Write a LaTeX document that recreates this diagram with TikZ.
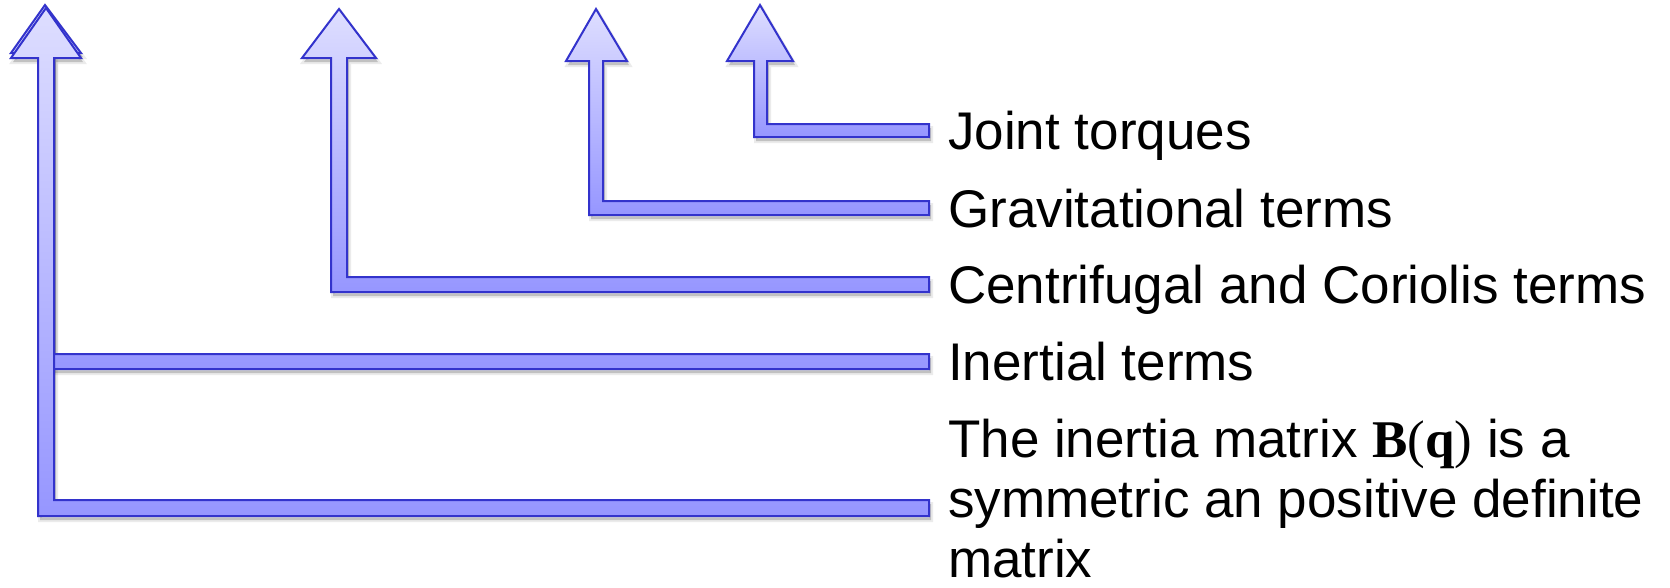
\documentclass[tikz,border=0pt]{standalone}
\usepackage{fontspec}
\setmainfont{Liberation Sans}
\newfontfamily\bqfont{Liberation Serif}
\definecolor{arrtop}{RGB}{222,222,255}
\definecolor{arrbot}{RGB}{150,150,255}
\definecolor{arrline}{RGB}{51,51,204}
\tikzset{
  arrowst/.style={draw=arrline, line width=2pt, line join=miter, top color=arrtop, bottom color=arrbot},
  shadowst/.style={fill=black, fill opacity=0.18, draw=black, draw opacity=0.08, line width=4pt, xshift=2pt, yshift=-4pt},
  lbl/.style={anchor=base west, inner sep=0pt, font=\fontsize{53}{60}\selectfont, text=black}
}
% args: shaft left, shaft right, bar top, bar bottom, head base, head left, head right, tip x, tip y
\newcommand{\arrowshadow}[9]{\path[shadowst] (929,#3) -- (#2,#3) -- (#2,#5) -- (#7,#5) -- (#8,#9) -- (#6,#5) -- (#1,#5) -- (#1,#4) -- (929,#4) -- cycle;}
\newcommand{\arrowbody}[9]{\path[arrowst] (929,#3) -- (#2,#3) -- (#2,#5) -- (#7,#5) -- (#8,#9) -- (#6,#5) -- (#1,#5) -- (#1,#4) -- (929,#4) -- cycle;}
\begin{document}
\begin{tikzpicture}[x=1pt,y=-1pt]
\useasboundingbox (0,0) rectangle (1670,587);
% shadows
\arrowshadow{38}{54}{500}{516}{58}{11}{81}{46}{8}
\arrowshadow{38}{54}{354}{369}{53}{11}{81}{45}{5}
\arrowshadow{331}{347}{277}{292}{58}{302}{376}{339}{9}
\arrowshadow{589}{603}{201}{215}{61}{566}{627}{596}{9}
\arrowshadow{754}{767}{124}{137}{61}{727}{793}{760}{5}
% arrows
\arrowbody{38}{54}{354}{369}{53}{11}{81}{45}{5}
\arrowbody{38}{54}{500}{516}{58}{11}{81}{46}{8}
\arrowbody{331}{347}{277}{292}{58}{302}{376}{339}{9}
\arrowbody{589}{603}{201}{215}{61}{566}{627}{596}{9}
\arrowbody{754}{767}{124}{137}{61}{727}{793}{760}{5}
% labels
\node[lbl] (jt) at (948,149) {Joint torques};
\node[lbl] (gt) at (948,227) {Gravitational terms};
\node[lbl] (cc) at (948,303) {Centrifugal and Coriolis terms};
\node[lbl] (it) at (948,380) {Inertial terms};
\node[lbl] (bq1) at (948,457) {The inertia matrix {\bqfont\textbf{B}(\textbf{q})} is a};
\node[lbl] (bq2) at (948,517) {symmetric an positive definite};
\node[lbl] (bq3) at (948,577) {matrix};
\end{tikzpicture}
\end{document}
